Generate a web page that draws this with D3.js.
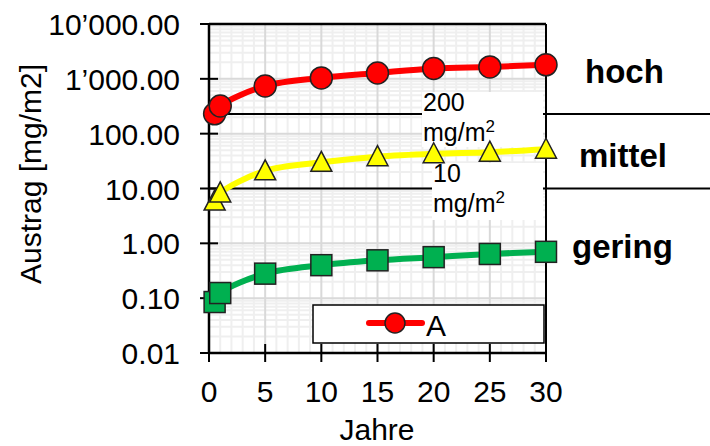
<!DOCTYPE html>
<html>
<head>
<meta charset="utf-8">
<script src="https://cdn.jsdelivr.net/npm/d3@7"></script>
<style>
  body { margin: 0; background: #fff; }
  text { font-family: Arial, "Liberation Sans", sans-serif; fill: #000; }
</style>
</head>
<body>
<div id="chart"></div>
<script>
// data
const years = [0.5, 1, 5, 10, 15, 20, 25, 30];
const hoch = [230, 320, 740, 1040, 1280, 1550, 1650, 1800];
const mittel = [5.9, 8.3, 21, 30, 38, 43, 46, 52];
const gering = [0.085, 0.124, 0.28, 0.40, 0.49, 0.56, 0.64, 0.70];
const yTicks = [0.01, 0.1, 1, 10, 100, 1000, 10000];
const yTickLabels = ['0.01', '0.10', '1.00', '10.00', '100.00', '1’000.00', '10’000.00'];
const xTicks = [0, 5, 10, 15, 20, 25, 30];
const thresholds = [228, 10];
const thresholdLabels = ['200', '10'];
const classLabels = ['hoch', 'mittel', 'gering'];
const legendLabels = ['A'];

const width = 710, height = 446;
const svg = d3.select('#chart').append('svg').attr('width', width).attr('height', height);

const x = d3.scaleLinear().domain([0, 30]).range([209, 546]);
const y = d3.scaleLog().domain([0.01, 10000]).range([353, 24]);

// grid
const grid = svg.append('g');
let minorY = [];
for (let e = -2; e < 4; e++) for (let k = 2; k < 10; k++) minorY.push(k * Math.pow(10, e));
grid.selectAll('line.my').data(minorY).enter().append('line')
  .attr('x1', x(0)).attr('x2', x(30)).attr('y1', d => y(d)).attr('y2', d => y(d))
  .style('stroke', '#efefef').style('stroke-width', 2);
grid.selectAll('line.mx').data(d3.range(1, 30).filter(d => d % 5 != 0)).enter().append('line')
  .attr('x1', d => x(d)).attr('x2', d => x(d)).attr('y1', y(10000)).attr('y2', y(0.01))
  .style('stroke', '#efefef').style('stroke-width', 2);
grid.selectAll('line.Mx').data(xTicks.slice(1, -1)).enter().append('line')
  .attr('x1', d => x(d)).attr('x2', d => x(d)).attr('y1', y(10000)).attr('y2', y(0.01))
  .style('stroke', '#d9d9d9').style('stroke-width', 2);
grid.selectAll('line.My').data(yTicks.slice(1, -1)).enter().append('line')
  .attr('x1', x(0)).attr('x2', x(30)).attr('y1', d => y(d)).attr('y2', d => y(d))
  .style('stroke', '#d9d9d9').style('stroke-width', 2);

// threshold lines with label boxes
const boxes = [{x0: 422, y0: 92, y1: 147}, {x0: 432, y0: 163, y1: 220}];
thresholds.forEach((t, i) => {
  svg.append('line').attr('x1', x(0)).attr('x2', width).attr('y1', y(t)).attr('y2', y(t))
    .style('stroke', '#000').style('stroke-width', 2);
  const b = boxes[i];
  svg.append('rect').attr('x', b.x0).attr('y', b.y0).attr('width', 543 - b.x0).attr('height', b.y1 - b.y0)
    .style('fill', '#fff');
  const tx = svg.append('text').attr('x', b.x0 + 1).attr('y', b.y0 + 19).style('font-size', '25px');
  tx.append('tspan').text(thresholdLabels[i]);
  const t2 = svg.append('text').attr('x', b.x0 + 1).attr('y', b.y0 + 49).style('font-size', '25px');
  t2.append('tspan').text('mg/m');
  t2.append('tspan').attr('dy', -9).style('font-size', '17px').text('2');
});

// axes frame
const axisG = svg.append('g');
axisG.append('line').attr('x1', x(0)).attr('x2', x(30)).attr('y1', y(10000)).attr('y2', y(10000))
  .style('stroke', '#000').style('stroke-width', 2.5);
axisG.append('line').attr('x1', x(30)).attr('x2', x(30)).attr('y1', y(10000)).attr('y2', y(0.01))
  .style('stroke', '#000').style('stroke-width', 2);
axisG.append('line').attr('x1', x(0)).attr('x2', x(0)).attr('y1', y(10000) - 1).attr('y2', y(0.01) + 1)
  .style('stroke', '#000').style('stroke-width', 2.5);
axisG.append('line').attr('x1', x(0)).attr('x2', x(30)).attr('y1', y(0.01)).attr('y2', y(0.01))
  .style('stroke', '#000').style('stroke-width', 2.5);
axisG.selectAll('line.yt').data(yTicks).enter().append('line')
  .attr('x1', x(0) - 9).attr('x2', x(0) + 9).attr('y1', d => y(d)).attr('y2', d => y(d))
  .style('stroke', '#000').style('stroke-width', 2);
axisG.selectAll('line.xt').data(xTicks).enter().append('line')
  .attr('x1', d => x(d)).attr('x2', d => x(d)).attr('y1', y(0.01) - 9).attr('y2', y(0.01) + 9)
  .style('stroke', '#000').style('stroke-width', 2);
axisG.selectAll('text.yl').data(yTicks).enter().append('text')
  .attr('x', 180).attr('y', d => y(d) + 11).style('text-anchor', 'end').style('font-size', '30px')
  .text((d, i) => yTickLabels[i]);
axisG.selectAll('text.xl').data(xTicks).enter().append('text')
  .attr('x', d => x(d)).attr('y', 402).style('text-anchor', 'middle').style('font-size', '30px')
  .text(d => d);
svg.append('text').attr('x', 377).attr('y', 440).style('text-anchor', 'middle').style('font-size', '30px')
  .text('Jahre');
svg.append('text').attr('transform', 'translate(41,174) rotate(-90)').style('text-anchor', 'middle')
  .style('font-size', '30px').text('Austrag [mg/m2]');

// series
const line = d3.line().x(d => x(d[0])).y(d => y(d[1])).curve(d3.curveCatmullRom.alpha(0.5));
const series = [
  {vals: hoch, color: '#ff0000', shape: 'circle'},
  {vals: mittel, color: '#ffff00', shape: 'triangle'},
  {vals: gering, color: '#00b050', shape: 'square'}
];
series.forEach(s => {
  const pts = years.map((yr, i) => [yr, s.vals[i]]);
  svg.append('path').attr('d', line(pts)).style('fill', 'none')
    .style('stroke', s.color).style('stroke-width', 6).style('stroke-linecap', 'round');
  const g = svg.append('g');
  pts.forEach(p => {
    const cx = x(p[0]), cy = y(p[1]);
    if (s.shape == 'circle') {
      g.append('circle').attr('cx', cx).attr('cy', cy).attr('r', 11);
    } else if (s.shape == 'triangle') {
      g.append('path').attr('d', 'M' + cx + ',' + (cy - 11) + 'L' + (cx + 10.5) + ',' + (cy + 9) + 'L' + (cx - 10.5) + ',' + (cy + 9) + 'Z');
    } else {
      g.append('rect').attr('x', cx - 10.5).attr('y', cy - 10.5).attr('width', 21).attr('height', 21);
    }
  });
  g.selectAll('*').style('fill', s.color).style('stroke', '#222').style('stroke-width', 1.5);
});

// class labels
const classY = [83, 167, 258], classX = [585, 579, 572];
classLabels.forEach((c, i) => {
  svg.append('text').attr('x', classX[i]).attr('y', classY[i]).style('font-size', '33px')
    .style('font-weight', 'bold').text(c);
});

// legend
const lg = svg.append('g');
lg.append('rect').attr('x', 313).attr('y', 305).attr('width', 231).attr('height', 38)
  .style('fill', '#fff').style('stroke', '#000').style('stroke-width', 1.5);
lg.append('line').attr('x1', 369).attr('x2', 422).attr('y1', 323).attr('y2', 323)
  .style('stroke', '#ff0000').style('stroke-width', 6).style('stroke-linecap', 'round');
lg.append('circle').attr('cx', 395).attr('cy', 323).attr('r', 10)
  .style('fill', '#ff0000').style('stroke', '#222').style('stroke-width', 1.5);
lg.append('text').attr('x', 426).attr('y', 336).style('font-size', '30px').text(legendLabels[0]);
</script>
</body>
</html>
